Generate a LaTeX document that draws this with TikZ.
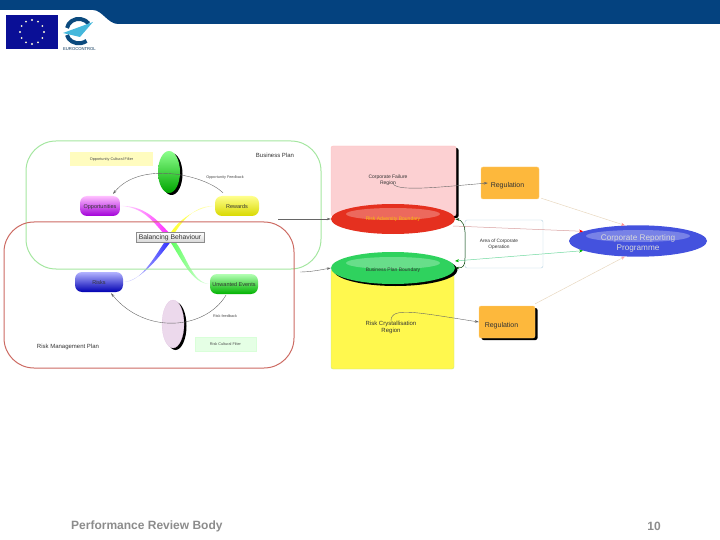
\documentclass[tikz,border=0pt]{standalone}
\usepackage{fontspec}
\setmainfont{Liberation Sans}
\usepackage{tikz}
\usetikzlibrary{shapes.geometric,arrows.meta,shadows,backgrounds}
\definecolor{headblue}{HTML}{04427F}
\definecolor{flagblue}{HTML}{0A0F96}
\definecolor{logoblue}{HTML}{0B4A7E}
\definecolor{logocyan}{HTML}{45B8DC}
\definecolor{footgrey}{HTML}{8C8C8C}
\definecolor{planred}{HTML}{CC6A62}
\definecolor{plangreen}{HTML}{A4E6A0}
\definecolor{regorange}{HTML}{FDB83C}
\definecolor{advred}{HTML}{E5301F}
\definecolor{planlime}{HTML}{2FD25E}
\definecolor{progblue}{HTML}{4452DE}
\definecolor{crystalyellow}{HTML}{FFF84E}
\definecolor{failpink}{HTML}{FCD0D2}
\definecolor{paletan}{HTML}{E8D8C0}
\definecolor{palered}{HTML}{D8A0A0}
\definecolor{palegreen}{HTML}{70D8A0}
\tikzstyle{planbox} = [rectangle, draw, rounded corners=30pt, line width=1pt, inner sep=0pt]
\tikzstyle{planlabel} = [font=\fontsize{6}{7}\selectfont, inner sep=0pt, text=black!80]
\tikzstyle{filterbox} = [rectangle, inner sep=0pt, font=\fontsize{3.8}{4.5}\selectfont, text=black!70,
                         text height=3pt, text depth=0pt]
\tikzstyle{pill} = [rectangle, rounded corners=7pt, inner sep=0pt, minimum height=20pt,
                    font=\fontsize{5.5}{6.5}\selectfont, text=black!80, text height=4pt, text depth=0pt]
\tikzstyle{oval} = [ellipse, inner sep=0pt, align=center]
\tikzstyle{blackshadow} = [drop shadow={shadow xshift=2.5pt, shadow yshift=-2pt, fill=black, opacity=1}]
\tikzstyle{gloss} = [path picture={\fill[white, opacity=.28] ([yshift=5pt]path picture bounding box.center)
                     ellipse [x radius=#1, y radius=6pt];}]
\tikzstyle{regbox} = [rectangle, fill=regorange, draw=regorange!70!white, rounded corners=2pt,
                      inner sep=0pt, font=\fontsize{7}{8}\selectfont, text=black!80, text depth=0pt]
\tikzstyle{thinarrow} = [-{Stealth[length=4pt, width=2.5pt]}, line width=.4pt, black!60]
\tikzstyle{palearrow} = [-{Stealth[length=4pt, width=3pt, #1]}, line width=.5pt]
\begin{document}
\begin{tikzpicture}[x=1pt, y=-1pt]
    \useasboundingbox (0,0) rectangle (720,540);
    \fill [headblue] (0,0) -- (720,0) -- (720,24) -- (118,24)
        .. controls (108,24) and (102,10) .. (93,10) -- (0,10) -- cycle;
    \node [rectangle, fill=flagblue, minimum width=52pt, minimum height=34pt, inner sep=0pt] (flag) at (32,32) {};
    \foreach \a in {0,30,...,330}
        \fill [white!85!yellow] ([shift={(\a:12pt)}]flag.center) circle [radius=1.1pt];
    \draw [logoblue, line width=4pt] (67,28) arc [start angle=170, end angle=35, x radius=12pt, y radius=11pt];
    \draw [logoblue, line width=4pt] (67,35) arc [start angle=190, end angle=310, x radius=12pt, y radius=10pt];
    \fill [logocyan] (63,33) -- (93,22) -- (80,37) -- cycle;
    \node [font=\fontsize{4.2}{5}\selectfont, text=logoblue!70!black, inner sep=0pt] (eurocontrol) at (79.5,49) {EUROCONTROL};
    \node [rectangle, planbox, draw=plangreen, minimum width=295pt, minimum height=128pt] (business) at (173.5,205) {};
    \node [rectangle, planbox, draw=planred, minimum width=290pt, minimum height=146pt] (riskplan) at (149,295) {};
    \node [planlabel] (businesslabel) at (275,155) {Business Plan};
    \node [planlabel] (risklabel) at (68,347) {Risk Management Plan};
    \node [filterbox, fill=yellow!25, minimum width=83pt, minimum height=14pt] (oppfilter) at (111.5,159) {Opportunity Cultural Filter};
    \node [filterbox, fill=green!10, draw=green!15, minimum width=61pt, minimum height=14pt] (riskfilter) at (225.5,344) {Risk Cultural Filter};
    \node [oval, blackshadow, top color=green!45!white, bottom color=green!65!black, line width=.2pt,
           minimum width=22pt, minimum height=42pt] (oppoval) at (169,172) {};
    \node [oval, blackshadow, fill=violet!15, draw=violet!22, line width=.2pt,
           minimum width=22pt, minimum height=48pt] (riskoval) at (173,324) {};
    \node [pill, top color=magenta!25!white, bottom color=magenta!75!blue!85!black, minimum width=40pt] (opps) at (100,206) {Opportunities};
    \node [pill, top color=yellow!45!white, bottom color=yellow!85!black, minimum width=44pt] (rewards) at (237,206) {Rewards};
    \node [pill, top color=blue!30!white, bottom color=blue!70!black, minimum width=48pt] (risks) at (99,282) {Risks};
    \node [pill, top color=green!30!white, bottom color=green!70!black, minimum width=48pt] (unwanted) at (234,284) {Unwanted Events};
    \node [filterbox] (oppfeedback) at (225,177) {Opportunity Feedback};
    \node [filterbox] (riskfeedback) at (225,316) {Risk feedback};
    \coordinate (hub) at (170,237);
    \begin{scope}[on background layer]
        \shade [left color=magenta!8, right color=magenta!85!white] (opps.east) .. controls +(22,1) and +(-12,-14) .. ([shift={(-6,-3)}]hub)
            -- ([shift={(0,-3)}]hub) .. controls +(-14,-16) and +(22,-1) .. (opps.east);
        \shade [left color=yellow!85, right color=yellow!15] (rewards.west) .. controls +(-18,1) and +(8,-14) .. ([shift={(0,-3)}]hub)
            -- ([shift={(4,-3)}]hub) .. controls +(10,-16) and +(-18,-1) .. (rewards.west);
        \shade [left color=blue!8, right color=blue!85] (risks.east) .. controls +(18,1) and +(-10,14) .. ([shift={(-4,3)}]hub)
            -- ([shift={(2,3)}]hub) .. controls +(-12,16) and +(18,-1) .. (risks.east);
        \shade [left color=green!65, right color=green!8] (unwanted.west) .. controls +(-18,1) and +(10,14) .. ([shift={(-1,3)}]hub)
            -- ([shift={(4,3)}]hub) .. controls +(12,14) and +(-18,-1) .. (unwanted.west);
    \end{scope}
    \node [rectangle, draw=black!45, top color=white, bottom color=black!15, inner sep=0pt, minimum width=68pt, minimum height=10pt,
           font=\fontsize{6.8}{8}\selectfont, text=black!80, text height=5.6pt, text depth=0pt] (balance) at (170,237) {Balancing Behaviour};
    \draw [thinarrow] ([shift={(-14,-3)}]rewards.north) .. controls (205,175) and (140,160) .. (113,194);
    \draw [thinarrow] ([shift={(-8,1)}]unwanted.south) .. controls (205,330) and (145,335) .. ([shift={(12,1)}]risks.south);
    \node [rectangle, blackshadow, fill=failpink, draw=red!25, rounded corners=2pt, minimum width=125pt, minimum height=70pt,
           inner sep=0pt] (failure) at (393.5,181) {};
    \node [rectangle, fill=crystalyellow, draw=yellow!55!green!50, rounded corners=2pt, minimum width=123pt, minimum height=100pt,
           inner sep=0pt] (crystal) at (392.5,319) {};
    \node [oval, gloss=47pt, fill=advred, minimum width=124pt, minimum height=30pt,
           font=\fontsize{5}{6}\selectfont, text=yellow!55!orange, text height=3.8pt, text depth=0pt] (adversity) at (393,219) {Risk Adversity Boundary};
    \node [oval, blackshadow, gloss=47pt, fill=planlime, minimum width=124pt, minimum height=32pt,
           font=\fontsize{5}{6}\selectfont, text=black!80, text height=6.2pt, text depth=0pt] (planboundary) at (393,268) {Business Plan Boundary};
    \node [font=\fontsize{5}{6}\selectfont, align=center, inner sep=0pt, text=black!80] (failurelabel) at (388,180) {Corporate Failure\\Region};
    \node [font=\fontsize{6}{7.4}\selectfont, align=center, inner sep=0pt, text=black!80] (crystallabel) at (391,327.5) {Risk Crystallisation\\Region};
    \node [rectangle, draw=green!40!blue!30!white, rounded corners=2pt, minimum width=78pt, minimum height=48pt,
           inner sep=0pt] (area) at (504,244) {};
    \node [font=\fontsize{4.8}{5.8}\selectfont, align=center, inner sep=0pt, text=black!80] (arealabel) at (499,244) {Area of Corporate\\Operation};
    \node [regbox, minimum width=58pt, minimum height=32pt, text height=8.4pt] (regtop) at (510,183) {Regulation\kern5pt};
    \node [regbox, blackshadow, minimum width=56pt, minimum height=32pt, text height=10.4pt] (regbottom) at (507,322) {Regulation\kern11pt};
    \node [oval, gloss=52pt, fill=progblue, minimum width=138pt, minimum height=31pt, text=white!85!black,
           font=\fontsize{8.2}{9.5}\selectfont] (programme) at (638,241) {\rule{0pt}{11pt}Corporate Reporting\\Programme};
    \coordinate (businessout) at (278,219);
    \coordinate (riskout) at (300,272);
    \draw [thinarrow] (businessout) -- (adversity.west);
    \draw [thinarrow] (riskout) .. controls (310,272) and (320,270) .. (planboundary.west);
    \draw [thinarrow] ([shift={(5,-3)}]failurelabel.south) .. controls +(0,10) and (440,187) .. ([xshift=7pt]regtop.west);
    \draw [thinarrow] (crystallabel.north) .. controls +(0,-14) and (415,312) .. (regbottom.west);
    \draw [palearrow=red!45, paletan] ([shift={(2,-1)}]regtop.south east) -- (programme.130);
    \draw [palearrow=red!35, paletan] ([shift={(0,-2)}]regbottom.north east) -- (programme.230);
    \draw [palearrow=red, palered] ([shift={(60,7)}]adversity.center) -- (programme.170);
    \draw [{Stealth[length=4pt, width=3pt, green!70!black]}-{Stealth[length=4pt, width=3pt, green!70!black]},
           line width=.5pt, palegreen] ([shift={(62,-7)}]planboundary.center) -- (programme.190);
    \draw [{Stealth[length=4pt, width=2.5pt]}-{Stealth[length=4pt, width=2.5pt]}, line width=.5pt, green!25!black]
        (adversity.east) .. controls +(7,1) and (465,226) .. (465,232) -- (465,258)
        .. controls (465,266) and +(8,0) .. (planboundary.east);
    \node [font=\fontsize{12}{14}\selectfont\bfseries, text=footgrey, inner sep=0pt, anchor=west] (footer) at (71,526) {Performance Review Body};
    \node [font=\fontsize{12}{14}\selectfont\bfseries, text=footgrey, inner sep=0pt] (pagenum) at (654,526) {10};
  \end{tikzpicture}
\end{document}
